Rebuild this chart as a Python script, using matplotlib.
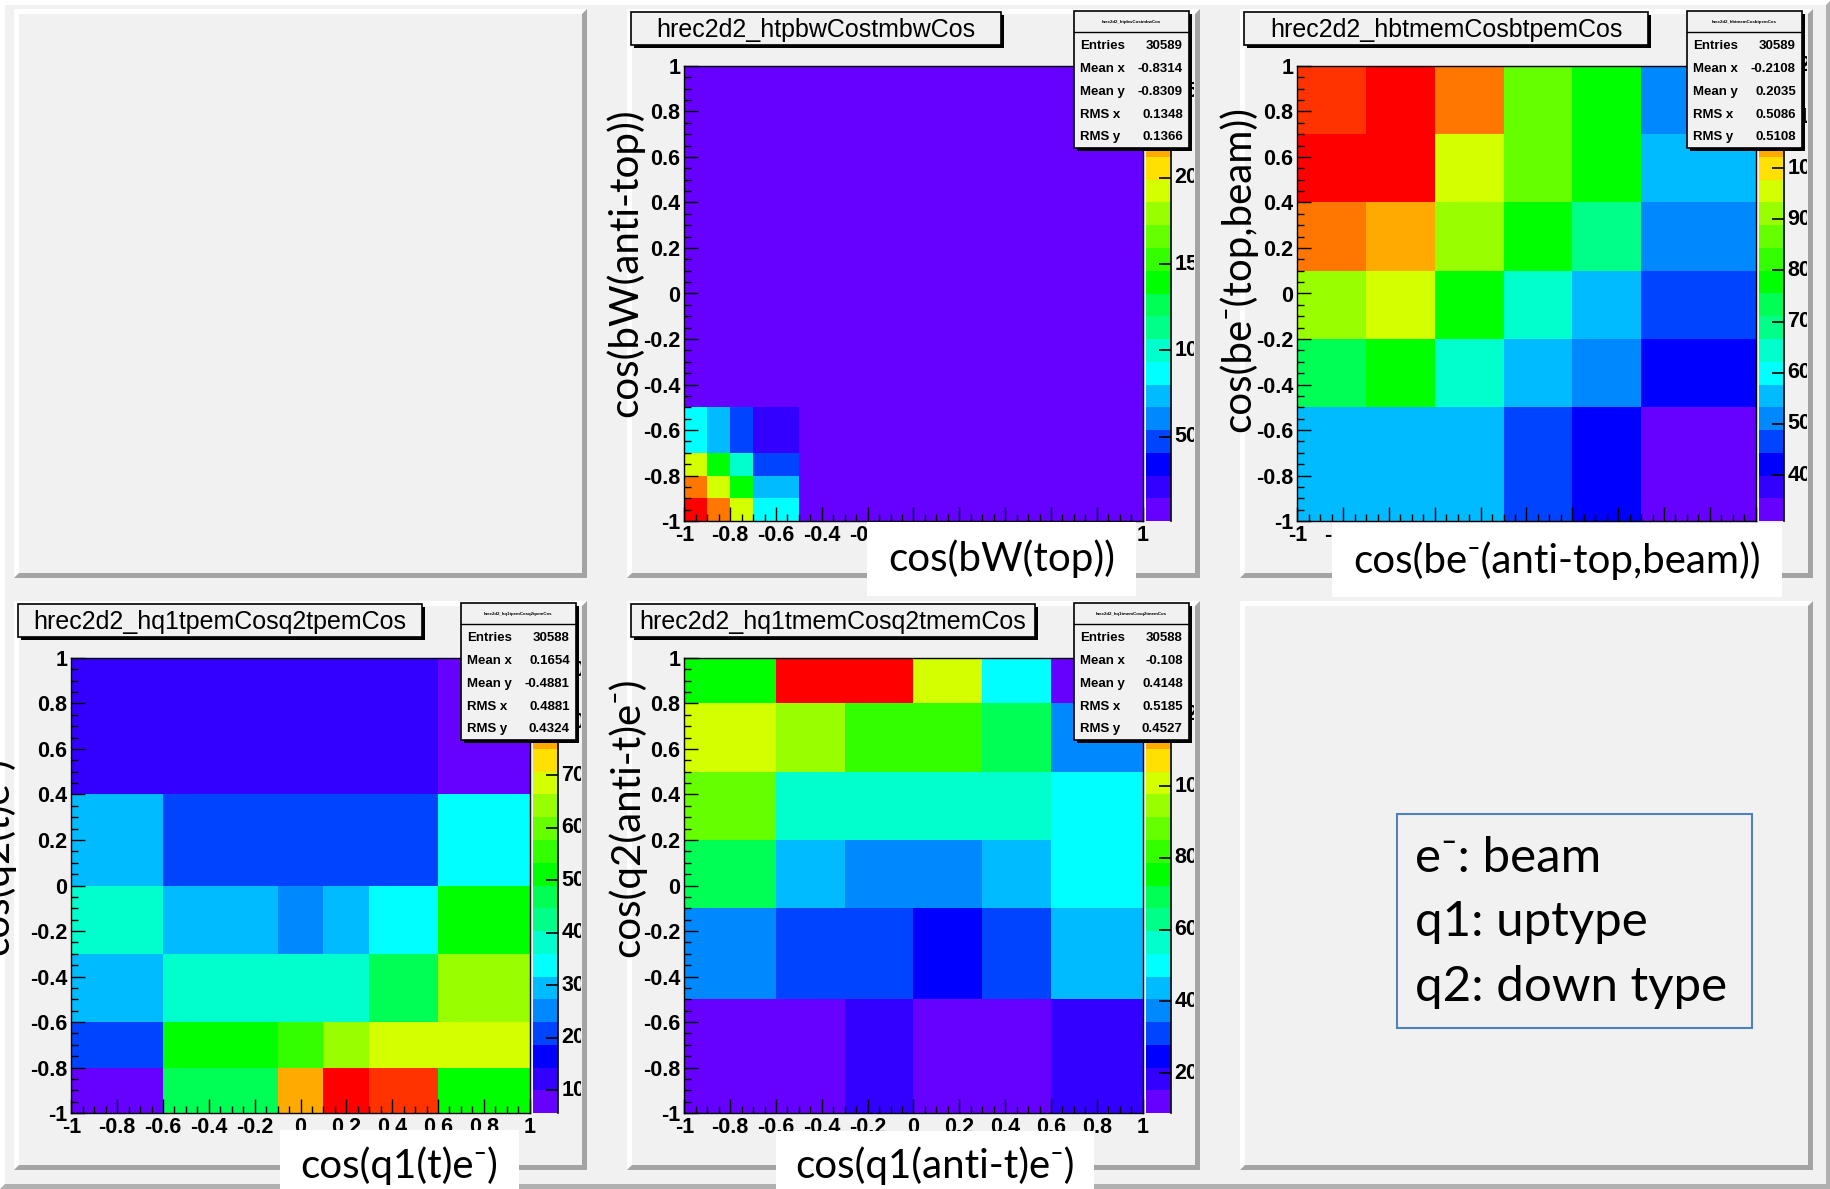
import numpy as np
import matplotlib
matplotlib.use('Agg')
import matplotlib.pyplot as plt
from matplotlib.colors import ListedColormap, BoundaryNorm
from matplotlib.patches import Rectangle, Polygon
from matplotlib.ticker import MultipleLocator, FuncFormatter
from matplotlib.transforms import Bbox, TransformedBbox

W, H = 1831, 1189
CANVAS = '#f1f1f1'
PAD = '#f1f1f1'

plt.rcParams['font.family'] = ['Liberation Sans', 'DejaVu Sans']
plt.rcParams['font.weight'] = 'bold'

# ROOT "pretty" palette cut in 20 contour levels
palette = ['#6600ff', '#3300ff', '#0000ff', '#0044ff', '#0088ff', '#00bbff', '#00ffff', '#00ffcc',
           '#00ff88', '#00ff55', '#00ff00', '#33ff00', '#66ff00', '#99ff00', '#d4ff00', '#ffe000',
           '#ffaa00', '#ff7700', '#ff3300', '#ff0000']

# ---- hrec2d2_htpbwCostmbwCos : cos(bW(top)) vs cos(bW(anti-top))
bw_xedges = [-1, -0.9, -0.8, -0.7, -0.5, 1]
bw_yedges = [-1, -0.9, -0.8, -0.7, -0.5, 1]
bw_counts = [[2650, 2320, 1925, 868, 10],
             [2320, 1925, 1396, 736, 10],
             [1925, 1396, 1000, 472, 10],
             [868, 736, 472, 208, 10],
             [10, 10, 10, 10, 10]]
bw_zticks = [500, 1000, 1500, 2000, 2500]
bw_stats = ['30589', '-0.8314', '-0.8309', '0.1348', '0.1366']

# ---- hrec2d2_hbtmemCosbtpemCos : cos(be-(anti-top,beam)) vs cos(be-(top,beam))
be_xedges = [-1, -0.7, -0.4, -0.1, 0.2, 0.5, 1]
be_yedges = [-1, -0.5, -0.2, 0.1, 0.4, 0.7, 1]
be_counts = [[555, 555, 555, 466, 421, 310],
             [733, 777, 644, 555, 510, 421],
             [911, 955, 777, 644, 555, 466],
             [1089, 1044, 911, 777, 688, 510],
             [1185, 1190, 955, 866, 777, 555],
             [1133, 1200, 1089, 866, 777, 510]]
be_zticks = [400, 500, 600, 700, 800, 900, 1000, 1100, 1200]
be_stats = ['30589', '-0.2108', '0.2035', '0.5086', '0.5108']

# ---- hrec2d2_hq1tpemCosq2tpemCos : cos(q1(t)e-) vs cos(q2(t)e-)
qt_xedges = [-1, -0.6, -0.1, 0.1, 0.3, 0.6, 1]
qt_yedges = [-1, -0.8, -0.6, -0.3, 0, 0.4, 1]
qt_counts = [[56, 468, 772, 924, 859, 512],
             [208, 512, 555, 642, 685, 685],
             [295, 382, 382, 382, 468, 642],
             [382, 295, 251, 295, 338, 512],
             [295, 208, 208, 208, 208, 338],
             [121, 121, 121, 121, 121, 78]]
qt_zticks = [100, 200, 300, 400, 500, 600, 700, 800, 900]
qt_stats = ['30588', '0.1654', '-0.4881', '0.4881', '0.4324']

# ---- hrec2d2_hq1tmemCosq2tmemCos : cos(q1(anti-t)e-) vs cos(q2(anti-t)e-)
qa_xedges = [-1, -0.6, -0.3, 0, 0.3, 0.6, 1]
qa_yedges = [-1, -0.5, -0.1, 0.2, 0.5, 0.8, 1]
qa_counts = [[89, 121, 184, 121, 121, 184],
             [374, 311, 311, 248, 311, 438],
             [691, 438, 374, 374, 438, 501],
             [882, 565, 565, 565, 565, 501],
             [1009, 945, 818, 818, 691, 374],
             [755, 1357, 1340, 1009, 501, 121]]
qa_zticks = [200, 400, 600, 800, 1000, 1200]
qa_stats = ['30588', '-0.108', '0.4148', '0.5185', '0.4527']

stat_names = ['Entries', 'Mean x', 'Mean y', 'RMS x', 'RMS y']
legend_lines = ['e\u207b: beam', 'q1: uptype', 'q2: down type']

# canvas divided 3x2, pixel boxes (x0, y0, x1, y1), y from top
pads = {'tl': (14, 9, 587, 578), 'tm': (627, 9, 1200, 578), 'tr': (1240, 9, 1813, 578),
        'bl': (14, 601, 587, 1170), 'bm': (627, 601, 1200, 1170), 'br': (1240, 601, 1813, 1170)}

fig = plt.figure(figsize=(W / 100, H / 100), dpi=100)
fig.patch.set_facecolor(CANVAS)


def frac(x0, y0, x1, y1):
    return [x0 / W, 1 - y1 / H, (x1 - x0) / W, (y1 - y0) / H]


under = fig.add_axes([0, 0, 1, 1], zorder=0)
over = fig.add_axes([0, 0, 1, 1], zorder=5)
for a in (under, over):
    a.set_xlim(0, W)
    a.set_ylim(H, 0)
    a.axis('off')


def bevel(ax, box, b=5, light='#ffffff', dark='#a4a4a4'):
    x0, y0, x1, y1 = box
    ax.add_patch(Rectangle((x0, y0), x1 - x0, y1 - y0, facecolor=PAD, edgecolor='none'))
    ax.add_patch(Polygon([(x0, y0), (x1, y0), (x1 - b, y0 + b), (x0 + b, y0 + b), (x0 + b, y1 - b), (x0, y1)],
                         closed=True, facecolor=light, edgecolor='none'))
    ax.add_patch(Polygon([(x1, y0), (x1, y1), (x0, y1), (x0 + b, y1 - b), (x1 - b, y1 - b), (x1 - b, y0 + b)],
                         closed=True, facecolor=dark, edgecolor='none'))


bevel(under, (0, 0, W, H), b=5, dark='#b0b0b0')
for p in pads.values():
    bevel(under, p)


def shadow_box(box, z=6):
    x0, y0, x1, y1 = box
    over.add_patch(Rectangle((x0 + 3, y0 + 3), x1 - x0, y1 - y0, facecolor='black', edgecolor='none', zorder=z))
    over.add_patch(Rectangle((x0, y0), x1 - x0, y1 - y0, facecolor=PAD, edgecolor='black', lw=1.2, zorder=z + 0.1))


def fmt(v, pos=None):
    v = round(v, 2) + 0.0
    return f'{v:g}'


def draw_hist(pad, xe, ye, z, zticks, name, stats, title_w):
    x0, y0, x1, y1 = pad
    pw, ph = x1 - x0, y1 - y0
    fx0, fy0, fx1, fy1 = x0 + 0.1 * pw, y0 + 0.1 * ph, x0 + 0.9 * pw, y0 + 0.9 * ph
    z = np.array(z, dtype=float)
    zmin, zmax = z.min(), z.max()
    levels = np.linspace(zmin, zmax, 21)
    cmap = ListedColormap(palette).with_extremes(over=palette[-1], under=palette[0])
    norm = BoundaryNorm(levels, 20)

    ax = fig.add_axes(frac(fx0, fy0, fx1, fy1), zorder=1)
    ax.pcolormesh(xe, ye, z, cmap=cmap, norm=norm)
    ax.set_xlim(-1, 1)
    ax.set_ylim(-1, 1)
    for axis in (ax.xaxis, ax.yaxis):
        axis.set_major_locator(MultipleLocator(0.2))
        axis.set_minor_locator(MultipleLocator(0.05))
        axis.set_major_formatter(FuncFormatter(fmt))
    ax.tick_params(which='both', direction='in', top=False, right=False, width=1, labelsize=15.5, pad=3)
    ax.tick_params(which='major', length=10)
    ax.tick_params(which='minor', length=5)
    for s in ax.spines.values():
        s.set_linewidth(1)

    # palette axis
    cx0, cx1 = x0 + 0.905 * pw, x0 + 0.95 * pw
    cax = fig.add_axes(frac(cx0, fy0, cx1, fy1), zorder=1)
    mids = (levels[:-1] + levels[1:]) / 2
    cax.pcolormesh([0, 1], levels, mids.reshape(-1, 1), cmap=cmap, norm=norm)
    cax.set_xlim(0, 1)
    cax.set_ylim(zmin, zmax)
    for s in ('left', 'top', 'bottom'):
        cax.spines[s].set_visible(False)
    cax.spines['right'].set_linewidth(1.2)
    cax.set_xticks([])
    cax.yaxis.set_ticks_position('right')
    cax.set_yticks(zticks)
    cax.tick_params(axis='y', direction='in', length=9, width=1.2, labelright=False, labelleft=False)

    # labels of the palette are cut by the pad edge
    clip = TransformedBbox(Bbox.from_extents((x0 + 5) / W, 1 - (y1 - 5) / H, (x1 - 6) / W, 1 - (y0 + 5) / H),
                           fig.transFigure)
    for v in zticks:
        yy = fy1 - (v - zmin) / (zmax - zmin) * (fy1 - fy0)
        t = over.text(cx1 + 3, yy, str(v), fontsize=15.5, ha='left', va='center', zorder=3)
        t.set_clip_path(None)
        t.set_clip_box(clip)
        t.set_clip_on(True)

    # title
    tb = (x0 + 4, y0 + 3, x0 + 4 + title_w, y0 + 36)
    shadow_box(tb)
    over.text((tb[0] + tb[2]) / 2, (tb[1] + tb[3]) / 2 + 1, name, fontsize=18, fontweight='normal',
              ha='center', va='center', zorder=7)

    # statistics box
    sb = (x0 + 0.78 * pw, y0 + 2, x0 + 0.98 * pw, y0 + 139)
    shadow_box(sb)
    sw, sh = sb[2] - sb[0], sb[3] - sb[1]
    over.plot([sb[0], sb[2]], [sb[1] + 0.155 * sh] * 2, color='black', lw=1, zorder=7)
    over.text(sb[0] + sw / 2, sb[1] + 0.08 * sh, name, fontsize=3.2, ha='center', va='center', zorder=7)
    for k, (lab, val) in enumerate(zip(stat_names, stats)):
        yy = sb[1] + (0.255 + k * 0.167) * sh
        over.text(sb[0] + 0.05 * sw, yy, lab, fontsize=9.5, ha='left', va='center', zorder=7)
        over.text(sb[2] - 0.05 * sw, yy, val, fontsize=9.5, ha='right', va='center', zorder=7)


draw_hist(pads['tm'], bw_xedges, bw_yedges, bw_counts, bw_zticks, 'hrec2d2_htpbwCostmbwCos', bw_stats, 370)
draw_hist(pads['tr'], be_xedges, be_yedges, be_counts, be_zticks, 'hrec2d2_hbtmemCosbtpemCos', be_stats, 404)
draw_hist(pads['bl'], qt_xedges, qt_yedges, qt_counts, qt_zticks, 'hrec2d2_hq1tpemCosq2tpemCos', qt_stats, 404)
draw_hist(pads['bm'], qa_xedges, qa_yedges, qa_counts, qa_zticks, 'hrec2d2_hq1tmemCosq2tmemCos', qa_stats, 404)

# axis titles pasted on top of the canvas
lab_font = dict(family=['Lato', 'DejaVu Sans'], fontweight='normal', fontsize=29, color='black', zorder=9)
xlabels = [((867, 522, 1136, 596), 'cos(bW(top))', 559),
           ((1332, 523, 1782, 597), 'cos(be\u207b(anti-top,beam))', 561),
           ((280, 1130, 519, 1189), 'cos(q1(t)e\u207b)', 1166),
           ((776, 1131, 1094, 1189), 'cos(q1(anti-t)e\u207b)', 1166)]
for (bx0, by0, bx1, by1), txt, ty in xlabels:
    over.add_patch(Rectangle((bx0, by0), bx1 - bx0, by1 - by0, facecolor='white', edgecolor='none', zorder=8))
    over.text((bx0 + bx1) / 2, ty, txt, ha='center', va='center', **lab_font)

ylabels = [(625, 263, 'cos(bW(anti-top))'),
           (1238, 269, 'cos(be\u207b(top,beam))'),
           (-4, 856, 'cos(q2(t)e\u207b)'),
           (627, 817, 'cos(q2(anti-t)e\u207b)')]
for xx, yy, txt in ylabels:
    over.text(xx, yy, txt, rotation=90, ha='center', va='center', **lab_font)

# particle legend
over.add_patch(Rectangle((1397, 814), 355, 214, facecolor='none', edgecolor='#4f81bd', lw=1.5, zorder=8))
for k, line in enumerate(legend_lines):
    over.text(1415, 858 + k * 64.5, line, ha='left', va='center',
              **{**lab_font, 'fontsize': 35.5})

fig.savefig('out.png', dpi=100, facecolor=CANVAS)
